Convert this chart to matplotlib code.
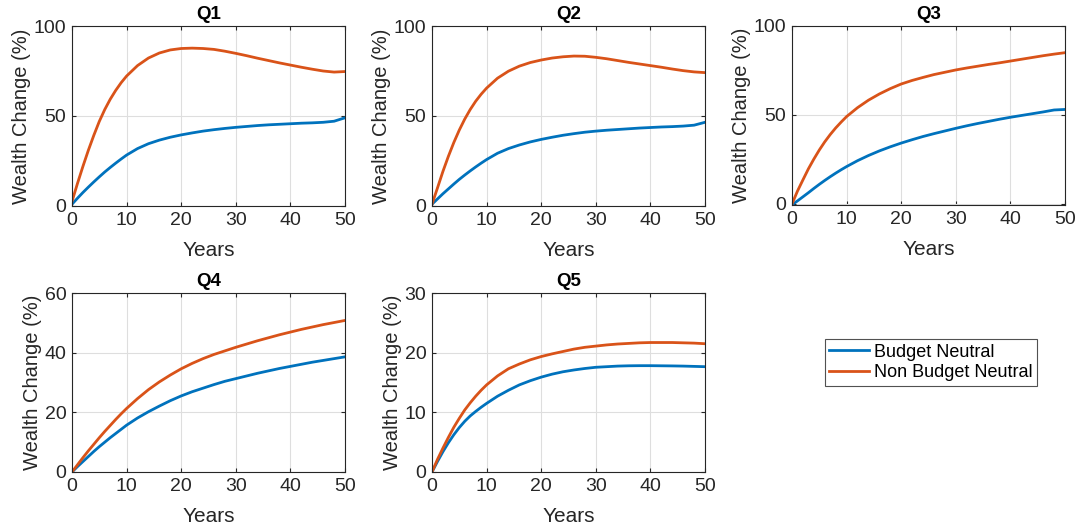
import matplotlib
matplotlib.use("Agg")
import matplotlib.pyplot as plt

plt.rcParams['font.family'] = ['Liberation Sans', 'DejaVu Sans']

# --- data (yearly to 10, then every 2 years) ---
years = list(range(0, 11)) + list(range(12, 51, 2))

q1_bn = [1, 4.3, 7.5, 10.5, 13.4, 16.2, 18.9, 21.4, 23.8, 26.1, 28.3,
         31.9, 34.6, 36.6, 38.2, 39.5, 40.6, 41.6, 42.4, 43.1, 43.7,
         44.2, 44.7, 45.1, 45.4, 45.7, 46.0, 46.2, 46.5, 47.1, 49.0]
q1_nbn = [2.5, 12.5, 22, 31, 39.3, 47, 53.6, 59.3, 64.2, 68.5, 72.2,
          78, 82.2, 85.0, 86.7, 87.5, 87.7, 87.5, 87.0, 86.0, 84.8,
          83.5, 82.1, 80.8, 79.5, 78.3, 77.1, 76.0, 75.0, 74.4, 74.7]

q2_bn = [1, 3.9, 6.8, 9.5, 12.2, 14.8, 17.2, 19.5, 21.7, 23.8, 25.8,
         29.3, 31.9, 33.9, 35.6, 37.0, 38.2, 39.3, 40.2, 41.0, 41.6,
         42.1, 42.5, 42.9, 43.3, 43.6, 43.9, 44.1, 44.4, 44.9, 46.5]
q2_nbn = [1, 10, 19.2, 27.6, 35.3, 42.2, 48.3, 53.6, 58.2, 62.1, 65.5,
          71.0, 74.9, 77.7, 79.7, 81.1, 82.2, 82.9, 83.3, 83.2, 82.6,
          81.8, 80.8, 79.8, 78.9, 78.0, 77.1, 76.1, 75.2, 74.5, 74.1]

q3_bn = [-0.5, 1.7, 4.0, 6.3, 8.7, 11.0, 13.2, 15.3, 17.3, 19.2, 21.0,
         24.3, 27.2, 29.8, 32.1, 34.2, 36.1, 37.9, 39.5, 41.0, 42.5,
         43.9, 45.2, 46.4, 47.6, 48.7, 49.7, 50.7, 51.7, 52.8, 53.1]
q3_nbn = [0, 7.2, 13.5, 19.7, 25.2, 30.3, 34.9, 39.0, 42.7, 46.0, 49.1,
          54.1, 58.3, 61.8, 64.8, 67.4, 69.4, 71.1, 72.7, 74.0, 75.3,
          76.4, 77.4, 78.4, 79.3, 80.3, 81.3, 82.3, 83.3, 84.2, 85.0]

q4_bn = [0, 1.8, 3.5, 5.2, 6.9, 8.5, 10.0, 11.5, 12.9, 14.3, 15.7,
         18.1, 20.2, 22.1, 23.9, 25.5, 26.9, 28.1, 29.3, 30.4, 31.3,
         32.2, 33.1, 33.9, 34.7, 35.4, 36.1, 36.8, 37.4, 38.0, 38.6]
q4_nbn = [0, 2.4, 4.8, 7.1, 9.3, 11.5, 13.6, 15.6, 17.6, 19.5, 21.3,
          24.6, 27.6, 30.2, 32.5, 34.6, 36.4, 38.0, 39.4, 40.6, 41.8,
          42.9, 44.0, 45.0, 46.0, 46.9, 47.8, 48.6, 49.4, 50.1, 50.8]

q5_bn = [0, 1.75, 3.4, 4.9, 6.25, 7.45, 8.5, 9.4, 10.15, 10.85, 11.5,
         12.7, 13.7, 14.6, 15.3, 15.9, 16.4, 16.8, 17.1, 17.35, 17.55,
         17.65, 17.75, 17.8, 17.82, 17.82, 17.8, 17.78, 17.75, 17.7, 17.65]
q5_nbn = [0, 2.1, 4.0, 5.8, 7.5, 9.0, 10.4, 11.6, 12.7, 13.7, 14.6,
          16.1, 17.3, 18.1, 18.8, 19.35, 19.8, 20.2, 20.6, 20.9, 21.1,
          21.3, 21.45, 21.55, 21.65, 21.7, 21.7, 21.7, 21.65, 21.6, 21.5]

titles = ['Q1', 'Q2', 'Q3', 'Q4', 'Q5']
bn_series = [q1_bn, q2_bn, q3_bn, q4_bn, q5_bn]
nbn_series = [q1_nbn, q2_nbn, q3_nbn, q4_nbn, q5_nbn]
y_limits = [(0, 100), (0, 100), (-0.6, 100), (0, 60), (0, 30)]
y_ticks = [[0, 50, 100], [0, 50, 100], [0, 50, 100], [0, 20, 40, 60], [0, 10, 20, 30]]

# panel positions in pixels (left, top, right, bottom)
W, H = 1082, 531
boxes = [(72, 26, 345, 206), (432, 26, 705, 206), (792, 26, 1065, 205),
         (72, 293, 345, 472), (432, 293, 705, 472)]

BLUE = '#0072BD'
ORANGE = '#D95319'
AXC = '#262626'

fig = plt.figure(figsize=(W / 100, H / 100), dpi=100)

for i in range(5):
    l, t, r, b = boxes[i]
    ax = fig.add_axes([l / W, (H - b) / H, (r - l) / W, (b - t) / H])
    ln1, = ax.plot(years, bn_series[i], color=BLUE, lw=2.0, label='Budget Neutral')
    ln2, = ax.plot(years, nbn_series[i], color=ORANGE, lw=2.0, label='Non Budget Neutral')
    ax.set_xlim(0, 50)
    ax.set_ylim(*y_limits[i])
    ax.set_xticks([0, 10, 20, 30, 40, 50])
    ax.set_yticks(y_ticks[i])
    ax.grid(True, color='#dedede', lw=0.8)
    ax.set_axisbelow(True)
    ax.tick_params(direction='in', labelsize=14, colors=AXC, length=3, pad=4,
                   top=True, right=True, labelcolor=AXC)
    for sp in ax.spines.values():
        sp.set_color(AXC)
        sp.set_linewidth(0.8)
    ax.set_title(titles[i], fontsize=13.5, fontweight='bold', pad=5)
    ax.set_xlabel('Years', fontsize=15, color=AXC, labelpad=9)
    ax.set_ylabel('Wealth Change (%)', fontsize=14.5, color=AXC, labelpad=2)

leg = fig.legend([ln1, ln2], ['Budget Neutral', 'Non Budget Neutral'],
                 loc='center', bbox_to_anchor=(931 / W, 1 - 362.5 / H),
                 fontsize=13, frameon=True, fancybox=False, handlelength=2.2,
                 handletextpad=0.3, borderpad=0.25, labelspacing=0.2, borderaxespad=0)
leg.get_frame().set_edgecolor(AXC)
leg.get_frame().set_linewidth(0.8)

fig.savefig('out.png', dpi=100)
